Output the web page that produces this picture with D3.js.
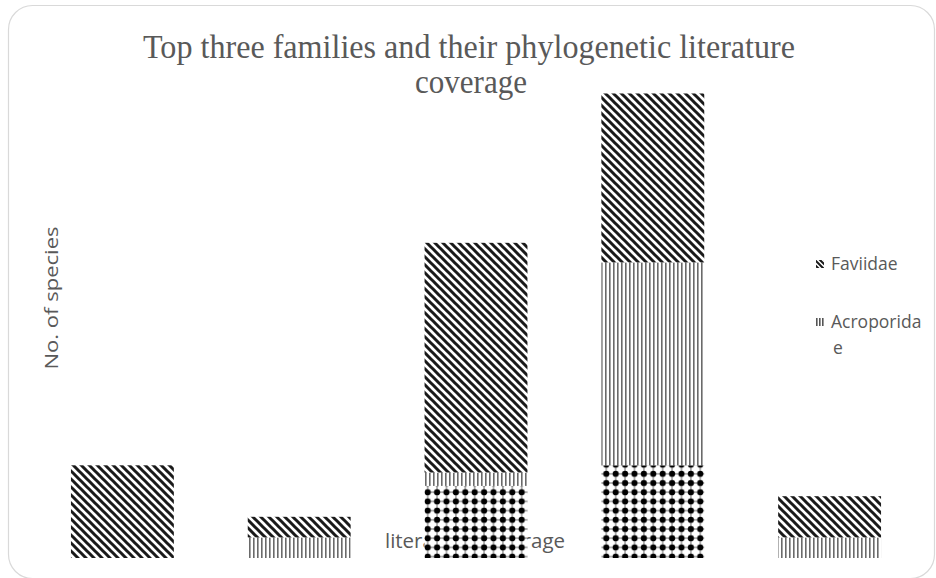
<!DOCTYPE html>
<html>
<head>
<meta charset="utf-8">
<script src="https://cdn.jsdelivr.net/npm/d3@7"></script>
<style>
  html, body { margin: 0; padding: 0; background: #fff; }
  svg { display: block; }
</style>
</head>
<body>
<svg id="chart" width="936" height="578"></svg>
<script>
// Literature-coverage groups (no tick labels are shown on the axis)
const categories = ["g1", "g2", "g3", "g4", "g5"];

// Species counts per family, stacked bottom to top
const familyNames = ["Poritidae", "Acroporidae", "Faviidae"];
const poritidae   = [0, 0, 7, 9, 0];
const acroporidae = [0, 2, 1.3, 19.7, 2];
const faviidae    = [9, 2, 22.3, 16.4, 4];

// Families listed in the legend
const legendFamilies = ["Faviidae", "Acroporidae"];

const rows = categories.map((c, i) => ({
  cat: c,
  Poritidae: poritidae[i],
  Acroporidae: acroporidae[i],
  Faviidae: faviidae[i]
}));

const svg = d3.select("#chart");

// Fill patterns
const defs = svg.append("defs");

const diag = defs.append("pattern")
  .attr("id", "pat-diag").attr("patternUnits", "userSpaceOnUse")
  .attr("width", 8).attr("height", 8);
diag.append("rect").attr("width", 8).attr("height", 8).attr("fill", "#fff");
diag.append("path")
  .attr("d", "M-2,-2 L10,10 M-2,6 L2,10 M6,-2 L10,2")
  .attr("stroke", "#1a1a1a").attr("stroke-width", 3);

const vert = defs.append("pattern")
  .attr("id", "pat-vert").attr("patternUnits", "userSpaceOnUse")
  .attr("width", 4).attr("height", 4);
vert.append("rect").attr("width", 4).attr("height", 4).attr("fill", "#fff");
vert.append("rect").attr("x", 1).attr("width", 1.6).attr("height", 4).attr("fill", "#6a6a6a");

const dots = defs.append("pattern")
  .attr("id", "pat-dots").attr("patternUnits", "userSpaceOnUse")
  .attr("width", 9.4).attr("height", 9.2);
dots.append("rect").attr("width", 9.4).attr("height", 9.2).attr("fill", "#fff");
dots.append("path").attr("d", "M4.7,0 V9.2 M0,4.6 H9.4")
  .attr("stroke", "#444").attr("stroke-width", 0.8);
dots.append("circle").attr("cx", 4.7).attr("cy", 4.6).attr("r", 3.1).attr("fill", "#000");

// Small legend swatches
const legDiag = defs.append("pattern")
  .attr("id", "leg-diag").attr("patternUnits", "userSpaceOnUse")
  .attr("width", 5).attr("height", 5);
legDiag.append("path")
  .attr("d", "M-1,-1 L6,6 M-1,4 L1,6 M4,-1 L6,1")
  .attr("stroke", "#1a1a1a").attr("stroke-width", 2);

const legVert = defs.append("pattern")
  .attr("id", "leg-vert").attr("patternUnits", "userSpaceOnUse")
  .attr("width", 3).attr("height", 3);
legVert.append("rect").attr("width", 1.6).attr("height", 3).attr("fill", "#555");

const fills = { Poritidae: "url(#pat-dots)", Acroporidae: "url(#pat-vert)", Faviidae: "url(#pat-diag)" };
const legendFills = { Acroporidae: "url(#leg-vert)", Faviidae: "url(#leg-diag)" };

// Chart frame
svg.append("rect")
  .attr("x", 8.5).attr("y", 5.5).attr("width", 926).attr("height", 573)
  .attr("rx", 24).attr("fill", "#fff")
  .attr("stroke", "#d9d9d9").attr("stroke-width", 1.2);

// Scales
const x = d3.scaleBand().domain(categories)
  .range([34, 918]).paddingInner(0.418).paddingOuter(0.209);
const y = d3.scaleLinear().domain([0, 45]).range([558, 94.5]);

// Title
const title = svg.append("text")
  .attr("text-anchor", "middle")
  .attr("font-family", "'Liberation Serif', 'Times New Roman', serif")
  .attr("fill", "#595959")
  .attr("font-size", 33);
title.append("tspan").attr("x", 469).attr("y", 58)
  .attr("textLength", 652).attr("lengthAdjust", "spacingAndGlyphs")
  .text("Top three families and their phylogenetic  literature");
title.append("tspan").attr("x", 471).attr("y", 93)
  .attr("textLength", 112).attr("lengthAdjust", "spacingAndGlyphs")
  .text("coverage");

// Axis titles
svg.append("text")
  .attr("transform", "translate(58,298) rotate(-90)")
  .attr("text-anchor", "middle")
  .attr("font-family", "'Open Sans', 'Noto Sans', sans-serif")
  .attr("font-size", 18).attr("fill", "#595959")
  .attr("textLength", 143).attr("lengthAdjust", "spacingAndGlyphs")
  .text("No. of species");

svg.append("text")
  .attr("x", 475).attr("y", 548)
  .attr("text-anchor", "middle")
  .attr("font-family", "'Open Sans', 'Noto Sans', sans-serif")
  .attr("font-size", 20).attr("fill", "#595959")
  .attr("textLength", 180).attr("lengthAdjust", "spacingAndGlyphs")
  .text("literature coverage");

// Stacked bars
const stack = d3.stack().keys(familyNames)(rows);
svg.append("g").selectAll("g")
  .data(stack).join("g")
  .attr("fill", d => fills[d.key])
  .selectAll("rect")
  .data(d => d.filter(s => s[1] - s[0] > 0))
  .join("rect")
  .attr("x", d => x(d.data.cat))
  .attr("width", x.bandwidth())
  .attr("y", d => y(d[1]))
  .attr("height", d => y(d[0]) - y(d[1]));

// Legend
const legendY = [264, 322];
const lg = svg.append("g")
  .attr("font-family", "'Open Sans', 'Noto Sans', sans-serif")
  .attr("font-size", 17.5).attr("fill", "#595959");
legendFamilies.forEach((name, i) => {
  const cy = legendY[i];
  lg.append("rect")
    .attr("x", 816).attr("y", cy - 4).attr("width", 8).attr("height", 8)
    .attr("fill", legendFills[name]);
  const t = lg.append("text").attr("x", 831).attr("y", cy + 6);
  if (name.length > 10) {
    t.append("tspan").attr("x", 831).text(name.slice(0, 10));
    t.append("tspan").attr("x", 833).attr("dy", 26).text(name.slice(10));
  } else {
    t.text(name);
  }
});
</script>
</body>
</html>
